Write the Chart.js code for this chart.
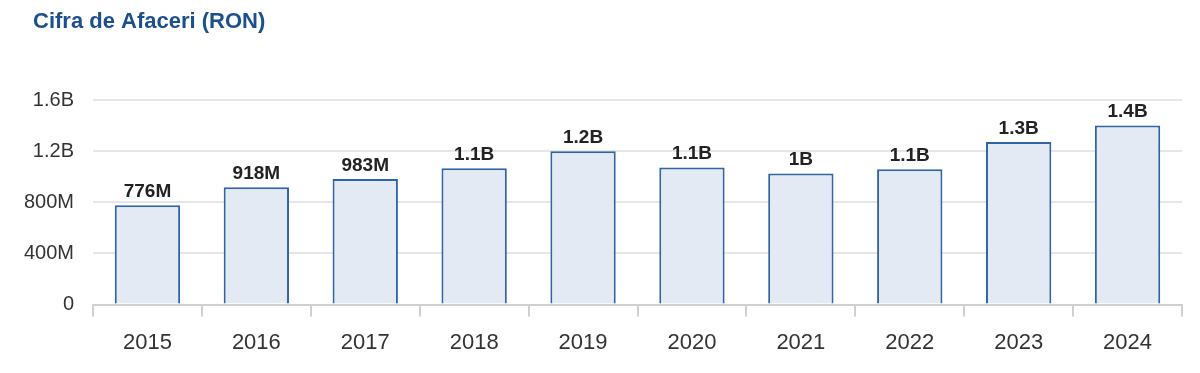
<!DOCTYPE html>
<html>
<head>
<meta charset="utf-8">
<script src="https://cdn.jsdelivr.net/npm/chart.js@4"></script>
<style>
  html, body { margin: 0; padding: 0; background: #fff; }
  #wrap { width: 1200px; height: 373px; }
</style>
</head>
<body>
<div id="wrap"><canvas id="chart"></canvas></div>
<script>
// valori
const years = ['2015', '2016', '2017', '2018', '2019', '2020', '2021', '2022', '2023', '2024'];
const turnover = [776e6, 918e6, 983e6, 1.066e9, 1.2e9, 1.072e9, 1.026e9, 1.058e9, 1.272e9, 1.4e9];
const yTicks = [0, 400e6, 800e6, 1.2e9, 1.6e9];
const chartTitle = 'Cifra de Afaceri (RON)';

const FONT = '"Liberation Sans", Arial, sans-serif';

function fmtShort(v) {
  if (v === 0) return '0';
  if (v >= 1e9) return String(Math.round(v / 1e8) / 10) + 'B';
  return Math.round(v / 1e6) + 'M';
}

// titlul, aliniat la stanga
const titleText = {
  id: 'titleText',
  afterDraw(chart) {
    const ctx = chart.ctx;
    ctx.save();
    ctx.font = 'bold 22px ' + FONT;
    ctx.fillStyle = '#1b4f8e';
    ctx.textAlign = 'left';
    ctx.textBaseline = 'middle';
    ctx.fillText(chartTitle, 33, 22);
    ctx.restore();
  }
};

// etichete deasupra barelor
const barLabels = {
  id: 'barLabels',
  afterDatasetsDraw(chart) {
    const ctx = chart.ctx;
    const meta = chart.getDatasetMeta(0);
    ctx.save();
    ctx.font = 'bold 19px ' + FONT;
    ctx.fillStyle = '#222';
    ctx.textAlign = 'center';
    ctx.textBaseline = 'bottom';
    meta.data.forEach((bar, i) => {
      ctx.fillText(fmtShort(turnover[i]), bar.x, bar.y - 4);
    });
    ctx.restore();
  }
};

new Chart(document.getElementById('chart'), {
  type: 'bar',
  data: {
    labels: years,
    datasets: [{
      data: turnover,
      backgroundColor: '#e4eaf3',
      borderColor: '#2f65a7',
      borderWidth: 2,
      borderSkipped: 'bottom',
      barPercentage: 0.6,
      categoryPercentage: 1
    }]
  },
  options: {
    responsive: true,
    maintainAspectRatio: false,
    animation: false,
    layout: { padding: { left: 16, right: 18, top: 100, bottom: 4 } },
    plugins: {
      legend: { display: false },
      tooltip: { enabled: false },
      title: { display: false }
    },
    scales: {
      x: {
        offset: true,
        grid: {
          offset: true,
          drawOnChartArea: false,
          drawTicks: true,
          tickLength: 12,
          color: '#d0d0d0',
          lineWidth: 2
        },
        border: { display: true, color: '#d0d0d0', width: 2 },
        ticks: {
          color: '#333',
          padding: 13,
          font: { family: FONT, size: 22 }
        }
      },
      y: {
        min: 0,
        max: 1.6e9,
        afterBuildTicks(axis) {
          axis.ticks = yTicks.map((v) => ({ value: v }));
        },
        afterFit(axis) {
          axis.width = 77;
        },
        grid: { color: '#e6e6e6', lineWidth: 2, drawTicks: false },
        border: { display: false },
        ticks: {
          color: '#333',
          padding: 19,
          font: { family: FONT, size: 20 },
          callback: (v) => fmtShort(v)
        }
      }
    }
  },
  plugins: [barLabels, titleText]
});
</script>
</body>
</html>
